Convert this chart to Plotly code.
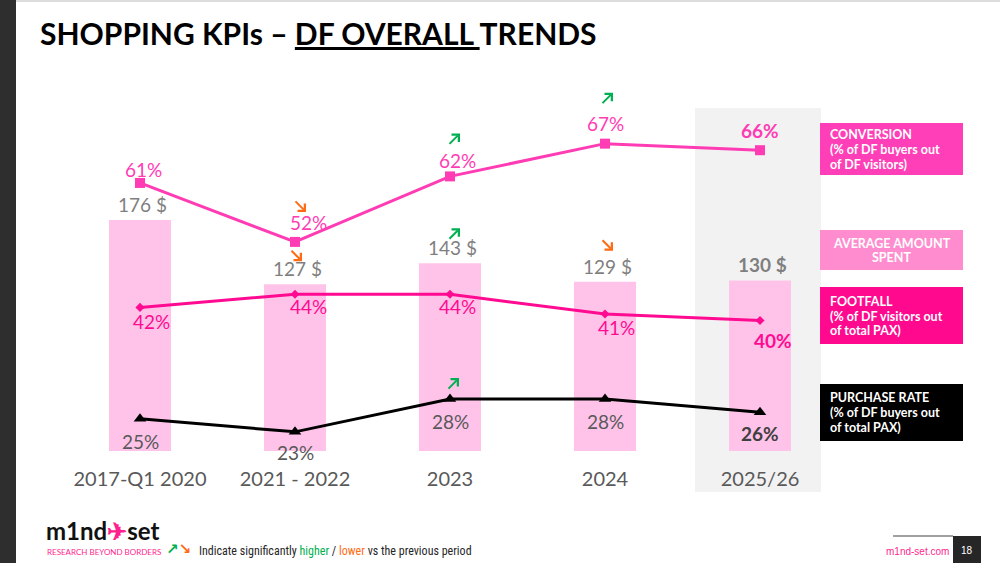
import plotly.graph_objects as go

# ---------------- data ----------------
categories = ["2017-Q1 2020", "2021 - 2022", "2023", "2024", "2025/26"]
avg_spent = [176, 127, 143, 129, 130]          # $
conversion = [61, 52, 62, 67, 66]              # %
footfall = [42, 44, 44, 41, 40]                # %
purchase_rate = [25, 23, 28, 28, 26]           # %

# significance arrows: (series, category index, direction)
significance = [
    ("conversion", 1, "down"),
    ("spent", 1, "down"),
    ("conversion", 2, "up"),
    ("spent", 2, "up"),
    ("conversion", 3, "up"),
    ("spent", 3, "down"),
    ("purchase", 2, "up"),
]

# ---------------- layout tweaks (pixel offsets) ----------------
W, H = 1000, 563
conv_dx = [3, 13, 7, 0, 0]
conv_dy = [13, 19, 16, 20, 20]
ff_dx = [11, 13, 7, 11, 13]
ff_dy = [-14, -12, -12, -14, -20]
pr_dx = [0, 0, 0, 0, 0]
pr_dy = [-23, -21, -22, -22, -21]
arrow_shift = {  # centre of arrow glyph (dx, dy) relative to the anchored value
    ("conversion", 1): (5, 36), ("spent", 1): (1, 29),
    ("conversion", 2): (4, 37), ("spent", 2): (4, 29),
    ("conversion", 3): (2, 45), ("spent", 3): (2, 37),
    ("purchase", 2): (3, 15),
}

PINK_CONV = "#ff3cb4"
PINK_FF = "#ff0a91"
BAR_PINK = "#ffc3e9"
GREEN = "#00b050"
ORANGE = "#ff6a13"
FONT = "Lato, 'Noto Sans', sans-serif"


def py(px):
    return 1 - px / H


x_idx = list(range(len(categories)))

fig = go.Figure()
fig.add_trace(go.Bar(x=x_idx, y=avg_spent, width=0.4, marker=dict(color=BAR_PINK, line=dict(width=0)),
                     yaxis="y", hoverinfo="skip"))
fig.add_trace(go.Scatter(x=x_idx, y=conversion, mode="lines+markers", yaxis="y2",
                         line=dict(color=PINK_CONV, width=3),
                         marker=dict(symbol="square", size=10, color=PINK_CONV)))
fig.add_trace(go.Scatter(x=x_idx, y=footfall, mode="lines+markers", yaxis="y2",
                         line=dict(color=PINK_FF, width=3),
                         marker=dict(symbol="diamond", size=7, color=PINK_FF)))
fig.add_trace(go.Scatter(x=x_idx, y=purchase_rate, mode="lines+markers", yaxis="y2",
                         line=dict(color="#000000", width=3),
                         marker=dict(symbol="triangle-up", size=11, color="#000000")))

ann = []
last = len(categories) - 1
for i in x_idx:
    bold = i == last
    ann.append(dict(x=i, y=conversion[i], xref="x", yref="y2", text=(f"<b>{conversion[i]}%</b>" if bold else f"{conversion[i]}%"),
                    showarrow=False, xshift=conv_dx[i], yshift=conv_dy[i],
                    font=dict(family=FONT, size=19, color=PINK_CONV)))
    ann.append(dict(x=i, y=avg_spent[i], xref="x", yref="y", text=(f"<b>{avg_spent[i]} $</b>" if bold else f"{avg_spent[i]} $"),
                    showarrow=False, xshift=2, yshift=15.5, yanchor="middle",
                    font=dict(family=FONT, size=19, color="#7f7f7f")))
    ann.append(dict(x=i, y=footfall[i], xref="x", yref="y2", text=(f"<b>{footfall[i]}%</b>" if bold else f"{footfall[i]}%"),
                    showarrow=False, xshift=ff_dx[i], yshift=ff_dy[i],
                    font=dict(family=FONT, size=19, color=PINK_FF)))
    ann.append(dict(x=i, y=purchase_rate[i], xref="x", yref="y2", text=(f"<b>{purchase_rate[i]}%</b>" if bold else f"{purchase_rate[i]}%"),
                    showarrow=False, xshift=pr_dx[i], yshift=pr_dy[i],
                    font=dict(family=FONT, size=19, color=("#404040" if bold else "#595959"))))

# significance arrows drawn as real annotation arrows (head + tail around the centre)
series_map = {"conversion": (conversion, "y2"), "spent": (avg_spent, "y"), "purchase": (purchase_rate, "y2")}
half = 6
for s, i, d in significance:
    vals, yr = series_map[s]
    dx, dy = arrow_shift[(s, i)]
    if d == "up":   # head upper-right, tail lower-left
        hx, hy, ax, ay, col = dx + half, dy + half, -2 * half, 2 * half, GREEN
    else:           # head lower-right, tail upper-left
        hx, hy, ax, ay, col = dx + half, dy - half, -2 * half, -2 * half, ORANGE
    ann.append(dict(x=i, y=vals[i], xref="x", yref=yr, text="", showarrow=True,
                    xshift=hx, yshift=hy, ax=ax, ay=ay, arrowhead=4, arrowsize=1.0,
                    arrowwidth=2, arrowcolor=col, standoff=0, startstandoff=0))

# title
ann.append(dict(x=38 / W, y=py(33), xref="paper", yref="paper", xanchor="left", yanchor="middle",
                text="<b>SHOPPING KPIs – <u>DF OVERALL </u>TRENDS</b>", showarrow=False,
                font=dict(family=FONT, size=30, color="#000000")))

# legend boxes on the right: (top, bottom, colour, lines, line centres, align)
boxes = [
    (123, 175, "#ff3fb8", ["CONVERSION", "(% of DF buyers out", "of DF visitors)"], [134, 149.5, 164.5], "left"),
    (230, 270, "#ff8ccf", ["AVERAGE AMOUNT", "SPENT"], [243.5, 257.5], "center"),
    (287, 344, "#ff0a8f", ["FOOTFALL", "(% of DF visitors out", "of total PAX)"], [301.5, 316, 330.5], "left"),
    (384, 441, "#000000", ["PURCHASE RATE", "(% of DF buyers out", "of total PAX)"], [397.5, 412.5, 427.5], "left"),
]
shapes = [
    dict(type="rect", xref="paper", yref="paper", x0=695 / W, x1=821 / W, y0=py(492), y1=py(108),
         fillcolor="#f2f2f2", line=dict(width=0), layer="below"),
    dict(type="rect", xref="paper", yref="paper", x0=0, x1=16 / W, y0=0, y1=1,
         fillcolor="#2e2e2e", line=dict(width=0), layer="below"),
    dict(type="line", xref="paper", yref="paper", x0=16 / W, x1=1, y0=py(1), y1=py(1),
         line=dict(color="#dcdcdc", width=2), layer="below"),
    dict(type="rect", xref="paper", yref="paper", x0=953 / W, x1=981 / W, y0=0, y1=py(536),
         fillcolor="#262626", line=dict(width=0)),
    dict(type="line", xref="paper", yref="paper", x0=893 / W, x1=953 / W, y0=py(536), y1=py(536),
         line=dict(color="#808080", width=1.5)),
]
for top, bot, col, lines, centres, align in boxes:
    shapes.append(dict(type="rect", xref="paper", yref="paper", x0=820 / W, x1=963 / W, y0=py(bot), y1=py(top),
                       fillcolor=col, line=dict(width=0)))
    for txt, cy in zip(lines, centres):
        ann.append(dict(x=(828 if align == "left" else 891.5) / W, y=py(cy), xref="paper", yref="paper",
                        xanchor=("left" if align == "left" else "center"), yanchor="middle",
                        text=f"<b>{txt}</b>", showarrow=False,
                        font=dict(family=FONT, size=12.5, color="#ffffff")))

# footer
ann += [
    dict(x=44 / W, y=py(530), xref="paper", yref="paper", xanchor="left", yanchor="middle", showarrow=False,
         text="<b>m1nd<span style='color:#ff1f8e'>✈</span>set</b>",
         font=dict(family=FONT, size=24, color="#111111")),
    dict(x=45 / W, y=py(551.5), xref="paper", yref="paper", xanchor="left", yanchor="middle", showarrow=False,
         text="RESEARCH BEYOND BORDERS", font=dict(family=FONT, size=8, color="#ff1f8e")),
    dict(x=164 / W, y=py(549), xref="paper", yref="paper", xanchor="left", yanchor="middle", showarrow=False,
         text=f"<b><span style='color:{GREEN}'>↗</span><span style='color:{ORANGE}'>↘</span></b>",
         font=dict(family="DejaVu Sans", size=15)),
    dict(x=197 / W, y=py(551), xref="paper", yref="paper", xanchor="left", yanchor="middle", showarrow=False,
         text=f"Indicate significantly <span style='color:{GREEN}'>higher</span> / <span style='color:{ORANGE}'>lower</span> vs the previous period",
         font=dict(family="'Liberation Sans Narrow', 'Roboto Condensed', 'Arial Narrow', sans-serif", size=12, color="#262626")),
    dict(x=917 / W, y=py(551), xref="paper", yref="paper", xanchor="center", yanchor="middle", showarrow=False,
         text="m1nd-set.com", font=dict(family="'Liberation Sans Narrow', sans-serif", size=10, color="#ff1f8e")),
    dict(x=967 / W, y=py(550), xref="paper", yref="paper", xanchor="center", yanchor="middle", showarrow=False,
         text="18", font=dict(family="'Liberation Sans Narrow', sans-serif", size=10, color="#ffffff")),
]

dom = [py(451), py(100)]
fig.update_layout(
    width=W, height=H, autosize=False,
    margin=dict(l=0, r=0, t=0, b=0),
    paper_bgcolor="#ffffff", plot_bgcolor="rgba(0,0,0,0)",
    showlegend=False,
    xaxis=dict(range=[-140 / 155, 860 / 155], domain=[0, 1], tickvals=x_idx, ticktext=categories,
               showgrid=False, zeroline=False, showline=False, ticks="", ticklabelstandoff=14,
               tickfont=dict(family=FONT, size=20, color="#595959"), fixedrange=True),
    yaxis=dict(domain=dom, range=[0, 351 / 1.3125], visible=False, showgrid=False, zeroline=False),
    yaxis2=dict(overlaying="y", range=[(582.5 - 451) / 6.55, (582.5 - 100) / 6.55], visible=False,
                showgrid=False, zeroline=False),
    annotations=ann,
    shapes=shapes,
)

fig.write_html("out.html")
